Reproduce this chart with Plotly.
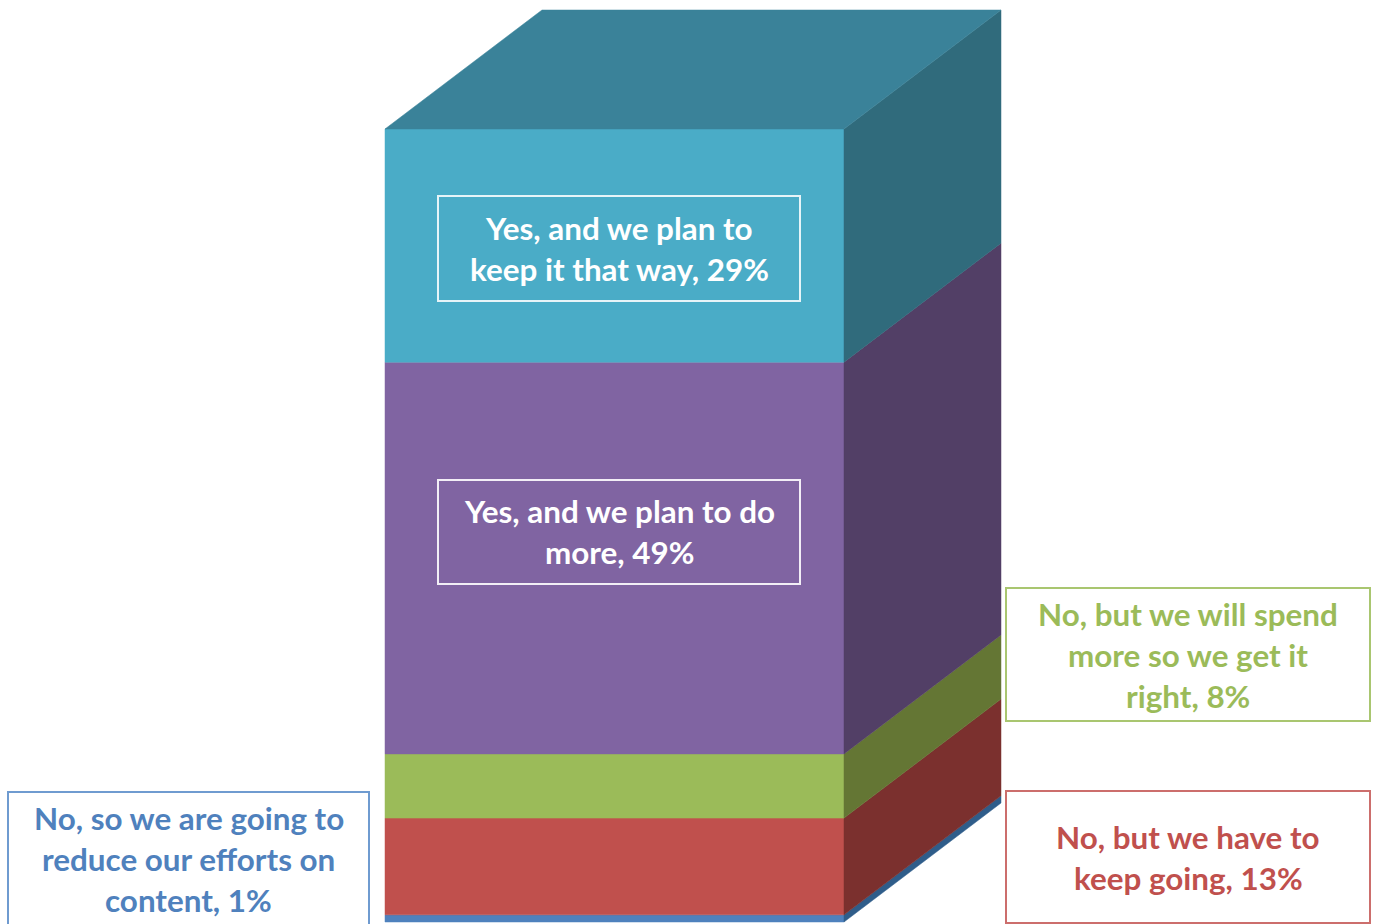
import plotly.graph_objects as go

W, H = 1373, 924

# ---- data -------------------------------------------------------------
segment_names = [
    "No, so we are going to reduce our efforts on content",
    "No, but we have to keep going",
    "No, but we will spend more so we get it right",
    "Yes, and we plan to do more",
    "Yes, and we plan to keep it that way",
]
segment_heights = [0.9, 12.2, 8.1, 49.4, 29.4]   # drawn heights
front_colors = ["#4F81BD", "#C0504D", "#9BBB59", "#8064A2", "#4AACC7"]
side_colors = ["#2F5D8A", "#7B302E", "#647634", "#523F66", "#306B7C"]
top_color = "#3A8299"

label_lines = [
    ["No, so we are going to", "reduce our efforts on", "content, 1%"],
    ["No, but we have to", "keep going, 13%"],
    ["No, but we will spend", "more so we get it", "right, 8%"],
    ["Yes, and we plan to do", "more, 49%"],
    ["Yes, and we plan to", "keep it that way, 29%"],
]
label_colors = ["#4F81BD", "#C0504D", "#9BBB59", "#FFFFFF", "#FFFFFF"]
border_colors = ["#6F9BD0", "#CC6E6C", "#A9C670", "#F2EEF6", "#E6F4F8"]
# box: left, right, top, bottom (page pixels); first line centre y
label_boxes = [
    (8, 369, 792, 930, 818),
    (1006, 1370, 791, 923, 837),
    (1006, 1370, 588, 721, 614),
    (438, 800, 480, 584, 511),
    (438, 800, 196, 301, 228),
]
LINE_GAP = 41

# ---- scales: x in column widths, y in percent -----------------------------
LEFT_PX, RIGHT_PX = 385, 844
BASE_PX, PX_PER_PCT = 922, 7.93
COL_W = RIGHT_PX - LEFT_PX
x_range = [-LEFT_PX / COL_W, (W - LEFT_PX) / COL_W]
y_range = [(BASE_PX - H) / PX_PER_PCT, BASE_PX / PX_PER_PCT]
DEPTH_X = 157 / COL_W
DEPTH_Y = 119 / PX_PER_PCT

fig = go.Figure()


def face(xs, ys, color):
    fig.add_trace(go.Scatter(
        x=xs + xs[:1], y=ys + ys[:1], mode="lines", fill="toself",
        fillcolor=color, line=dict(color=color, width=0.5),
        hoverinfo="skip", showlegend=False,
    ))


bottom = 0.0
for name, h, fc, sc in zip(segment_names, segment_heights, front_colors, side_colors):
    top = bottom + h
    face([0, 1, 1, 0], [bottom, bottom, top, top], fc)
    face([1, 1 + DEPTH_X, 1 + DEPTH_X, 1],
         [bottom, bottom + DEPTH_Y, top + DEPTH_Y, top], sc)
    bottom = top
face([0, 1, 1 + DEPTH_X, DEPTH_X],
     [bottom, bottom, bottom + DEPTH_Y, bottom + DEPTH_Y], top_color)

shapes, annotations = [], []
for lines, tc, bc, (l, r, t, b, y0) in zip(label_lines, label_colors, border_colors, label_boxes):
    shapes.append(dict(type="rect", xref="paper", yref="paper",
                       x0=l / W, x1=r / W, y0=1 - t / H, y1=1 - b / H,
                       line=dict(color=bc, width=2), fillcolor="rgba(0,0,0,0)"))
    for i, text in enumerate(lines):
        annotations.append(dict(
            xref="paper", yref="paper", x=(l + r) / 2 / W, y=1 - (y0 + i * LINE_GAP) / H,
            text=f"<b>{text}</b>", showarrow=False, xanchor="center", yanchor="middle",
            font=dict(family="Lato", size=31.4, color=tc),
        ))

fig.update_layout(
    width=W, height=H, autosize=False,
    margin=dict(l=0, r=0, t=0, b=0),
    paper_bgcolor="white", plot_bgcolor="white",
    xaxis=dict(range=x_range, visible=False, fixedrange=True),
    yaxis=dict(range=y_range, visible=False, fixedrange=True),
    shapes=shapes, annotations=annotations, showlegend=False,
)
fig.write_html(
    "out.html", config=dict(displayModeBar=False),
    post_script="document.body.style.margin='0';document.body.style.overflow='hidden';",
)
